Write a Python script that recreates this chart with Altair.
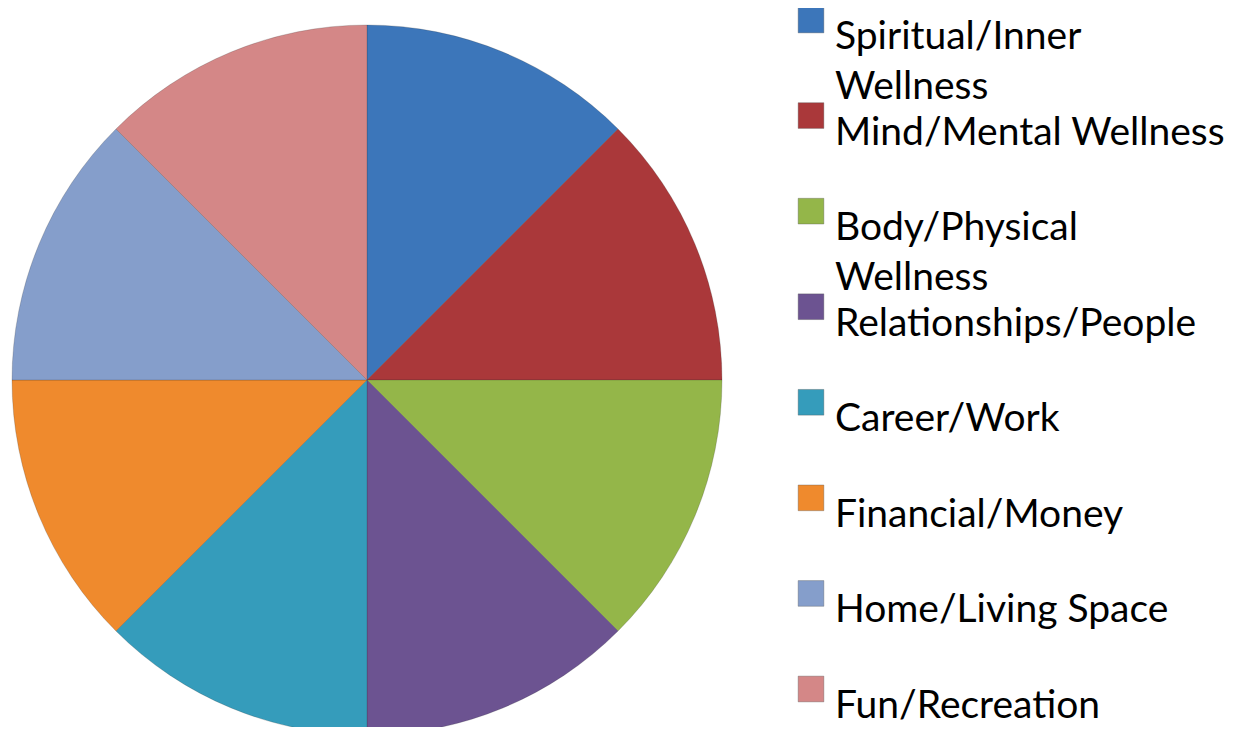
import altair as alt
import pandas as pd

categories = [
    "Spiritual/Inner Wellness",
    "Mind/Mental Wellness",
    "Body/Physical Wellness",
    "Relationships/People",
    "Career/Work",
    "Financial/Money",
    "Home/Living Space",
    "Fun/Recreation",
]
legend_labels = [
    "Spiritual/Inner\nWellness",
    "Mind/Mental Wellness",
    "Body/Physical\nWellness",
    "Relationships/People",
    "Career/Work",
    "Financial/Money",
    "Home/Living Space",
    "Fun/Recreation",
]
values = [1, 1, 1, 1, 1, 1, 1, 1]
colors = ["#3C76BA", "#AA383A", "#94B649", "#6C5391", "#359CBB",
          "#EF8A2D", "#859ECB", "#D48787"]

df = pd.DataFrame({
    "category": categories,
    "label": legend_labels,
    "value": values,
    "order": list(range(len(categories))),
})

color_scale = alt.Scale(domain=categories, range=colors)

pie = alt.Chart(df).mark_arc(outerRadius=355, stroke="#2a2a2a", strokeWidth=0.4, strokeOpacity=0.5).encode(
    theta=alt.Theta("value:Q", stack=True),
    color=alt.Color("category:N", scale=color_scale, legend=None),
    order=alt.Order("order:Q"),
    x=alt.value(359),
    y=alt.value(372),
)

leg_y = alt.Y("category:N", scale=alt.Scale(type="point", domain=categories, range=[12, 681], padding=0), axis=None)

squares = alt.Chart(df).mark_square(size=660, opacity=1, stroke="#555555", strokeWidth=0.6, strokeOpacity=0.6).encode(
    x=alt.value(803),
    y=leg_y,
    color=alt.Color("category:N", scale=color_scale, legend=None),
)

texts = alt.Chart(df).mark_text(
    align="left", baseline="alphabetic", dy=29, lineHeight=50,
    lineBreak="\n", font="Lato", fontSize=39, color="black",
).encode(
    x=alt.value(827),
    y=leg_y,
    text="label:N",
)

chart = alt.layer(pie, squares, texts).properties(
    width=1218, height=719,
    autosize=alt.AutoSizeParams(type="none"),
    padding=0,
).configure_view(stroke=None)

chart.save("out.html", embed_options={"renderer": "svg", "actions": False})
